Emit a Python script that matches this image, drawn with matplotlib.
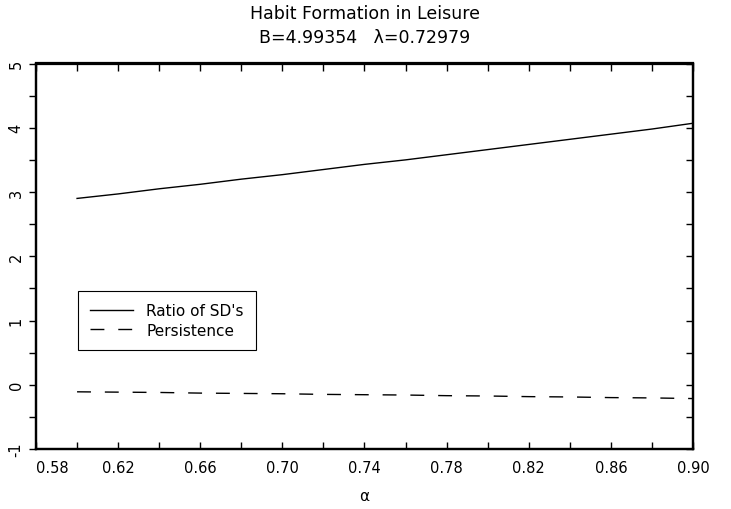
import matplotlib
matplotlib.use('Agg')
from matplotlib import pyplot as plt
from matplotlib.ticker import MultipleLocator, FixedLocator
import numpy as np

alpha = [0.60, 0.62, 0.64, 0.66, 0.68, 0.70, 0.72, 0.74,
         0.76, 0.78, 0.80, 0.82, 0.84, 0.86, 0.88, 0.90]
ratio_sd = [2.90, 2.97, 3.05, 3.12, 3.20, 3.27, 3.35, 3.43,
            3.50, 3.58, 3.66, 3.74, 3.82, 3.90, 3.98, 4.07]
persistence = [-0.11, -0.115, -0.12, -0.13, -0.135, -0.14, -0.15, -0.155,
               -0.16, -0.17, -0.175, -0.185, -0.19, -0.20, -0.205, -0.215]

xticks = [0.58, 0.62, 0.66, 0.70, 0.74, 0.78, 0.82, 0.86, 0.90]
yticks = [-1, 0, 1, 2, 3, 4, 5]

fig = plt.figure(figsize=(7.31, 5.10), dpi=100)
ax = fig.add_axes([36/731, 60/510, 657/731, 385.5/510])

ax.plot(alpha, ratio_sd, color='black', lw=1.0, label="Ratio of SD's")
ax.plot(alpha, persistence, color='black', lw=1.0, ls=(0, (10, 10)), label='Persistence')

ax.set_xlim(0.58, 0.90)
ax.set_ylim(-1, 5)

ax.xaxis.set_major_locator(FixedLocator(xticks))
ax.xaxis.set_minor_locator(MultipleLocator(0.02))
ax.set_xticklabels(['%.2f' % v for v in xticks], fontsize=10.5)
ax.get_xticklabels()[0].set_horizontalalignment('left')

ax.yaxis.set_major_locator(FixedLocator(yticks))
ax.yaxis.set_minor_locator(MultipleLocator(0.5))
ax.set_yticklabels([str(v) for v in yticks], fontsize=10.5, rotation=90, va='center')

ax.tick_params(axis='x', which='both', direction='in', top=True, length=5, width=1, pad=8)
ax.tick_params(axis='y', which='both', direction='out', length=5, width=1, pad=4)

# inward ticks on the right side
ax2 = ax.twinx()
ax2.set_ylim(-1, 5)
ax2.yaxis.set_major_locator(MultipleLocator(0.5))
ax2.tick_params(axis='y', direction='in', length=5, width=1, labelright=False)

for a in (ax, ax2):
    for s in a.spines.values():
        s.set_linewidth(1.6)

ax.set_xlabel('\u03b1', fontsize=11, labelpad=9)

leg = ax.legend(loc='upper left', bbox_to_anchor=(0.064, 0.41), fontsize=11,
                frameon=True, fancybox=False, edgecolor='black', framealpha=1,
                handlelength=2.8, handletextpad=0.85, borderpad=0.8,
                labelspacing=0.3, borderaxespad=0)
leg.get_frame().set_linewidth(0.8)

fig.text(364.5/731, 1 - 14/510, 'Habit Formation in Leisure', ha='center', va='center', fontsize=12.5)
fig.text(364.5/731, 1 - 38/510, 'B=4.99354   \u03bb=0.72979', ha='center', va='center', fontsize=12.5)

fig.savefig('out.png', dpi=100)
